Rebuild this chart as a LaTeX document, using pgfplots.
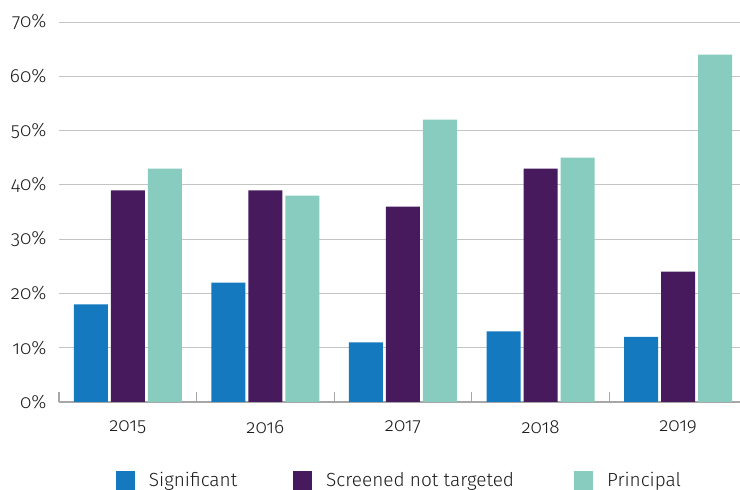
\documentclass[border=0pt]{standalone}
\usepackage{fontspec}
\setmainfont{Fira Sans}[Numbers=OldStyle, UprightFont=* Light]
\usepackage{pgfplots}
\pgfplotsset{compat=1.18}
\definecolor{cSig}{HTML}{1479BF}
\definecolor{cScr}{HTML}{461A5C}
\definecolor{cPri}{HTML}{88CCBF}
\definecolor{cGrid}{HTML}{C4C4C4}
\definecolor{cTxt}{HTML}{1A1A1A}
\begin{document}
\begin{tikzpicture}
\begin{axis}[
  scale only axis,
  width=681pt, height=380pt,
  xmin=-0.5, xmax=4.45,
  ymin=0, ymax=70,
  ybar=3pt, bar width=34pt,
  /pgf/number format/assume math mode=true,
  xtick={0,1,2,3,4},
  xticklabels={2015,2016,2017,2018,2019},
  minor xtick={-0.5,0.5,1.5,2.5,3.5},
  ytick={0,10,20,30,40,50,60,70},
  yticklabels={0\%,10\%,20\%,30\%,40\%,50\%,60\%,70\%},
  major tick length=0pt,
  minor tick length=10pt,
  tick align=inside,
  xtick pos=bottom,
  ytick pos=left,
  axis lines*=left,
  y axis line style={draw=none},
  x axis line style={draw=cGrid!85!black, line width=1.5pt},
  minor tick style={draw=cGrid!85!black, line width=1.2pt},
  ymajorgrids,
  grid style={draw=cGrid, line width=1pt},
  tick label style={font=\fontsize{19}{22}\selectfont, text=cTxt},
  yticklabel style={xshift=-9pt},
  xticklabel style={yshift=-15pt},
  legend columns=3,
  legend style={draw=none, fill=none, at={(0.5,-0.2053)}, anchor=center,
    font=\fontsize{19}{22}\selectfont, text=cTxt,
    /tikz/column 1/.style={column sep=12pt},
    /tikz/column 3/.style={column sep=12pt},
    /tikz/column 5/.style={column sep=12pt},
    /tikz/column 2/.style={column sep=54pt},
    /tikz/column 4/.style={column sep=58pt}},
  legend image code/.code={\fill[#1] (0pt,-9.5pt) rectangle (19pt,9.5pt);},
]
\addplot[fill=cSig, draw=none] coordinates {(0,18) (1,22) (2,11) (3,13) (4,12)};
\addplot[fill=cScr, draw=none] coordinates {(0,39) (1,39) (2,36) (3,43) (4,24)};
\addplot[fill=cPri, draw=none] coordinates {(0,43) (1,38) (2,52) (3,45) (4,64)};
\legend{Significant, Screened not targeted, Principal}
\end{axis}
\pgfresetboundingbox
\path (current axis.south west) ++(-59pt,-88pt) rectangle ++(740pt,490pt);
\end{tikzpicture}
\end{document}
